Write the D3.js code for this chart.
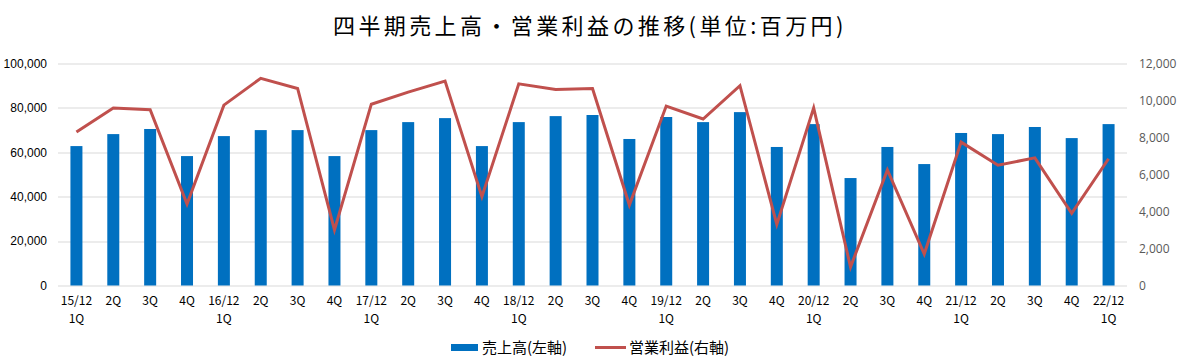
<!DOCTYPE html>
<html>
<head>
<meta charset="utf-8">
<script src="https://cdn.jsdelivr.net/npm/d3@7"></script>
<style>
  body { margin: 0; background: #fff; }
  text { font-family: "Noto Sans CJK JP", sans-serif; }
</style>
</head>
<body>
<div id="chart"></div>
<script>
// data
var periods = ["15/12","2Q","3Q","4Q","16/12","2Q","3Q","4Q","17/12","2Q","3Q","4Q",
  "18/12","2Q","3Q","4Q","19/12","2Q","3Q","4Q","20/12","2Q","3Q","4Q",
  "21/12","2Q","3Q","4Q","22/12"];
var sales = [62800, 68200, 70500, 58300, 67300, 70000, 70000, 58300, 70000,
  73600, 75400, 62800, 73600, 76300, 76800, 66000, 75900, 73600, 78100, 62400,
  72700, 48400, 62400, 54700, 68700, 68200, 71400, 66400, 72700];
var profit = [8300, 9600, 9500, 4400, 9750, 11200, 10650, 3000, 9800,
  10450, 11050, 4800, 10900, 10600, 10650, 4350, 9700, 9000, 10800, 3300,
  9600, 1000, 6250, 1700, 7750, 6500, 6900, 3900, 6850];
var leftTicks = [0, 20000, 40000, 60000, 80000, 100000];
var rightTicks = [0, 2000, 4000, 6000, 8000, 10000, 12000];

var W = 1184, H = 364;
var margin = {top: 63.5, right: 57, bottom: 78.5, left: 58},
  width = W - margin.left - margin.right,
  height = H - margin.top - margin.bottom;

var svg = d3.select("#chart").append("svg")
  .attr("width", W).attr("height", H);

svg.append("text")
  .attr("x", 333).attr("y", 34)
  .style("font-size", "22px")
  .style("letter-spacing", "3.4px")
  .style("fill", "#000")
  .text("四半期売上高・営業利益の推移(単位:百万円)");

var g = svg.append("g")
  .attr("transform", "translate(" + margin.left + "," + margin.top + ")");

var idx = d3.range(periods.length);
var x = d3.scaleBand().domain(idx).range([0, width]).padding(0);
var yL = d3.scaleLinear().domain([0, 100000]).range([height, 0]);
var yR = d3.scaleLinear().domain([0, 12000]).range([height, 0]);

// gridlines
g.selectAll(".grid")
  .data(leftTicks)
  .enter().append("line")
  .attr("x1", 0).attr("x2", width)
  .attr("y1", function(d) { return Math.round(yL(d)) + 0.5; })
  .attr("y2", function(d) { return Math.round(yL(d)) + 0.5; })
  .style("stroke", "#d9d9d9").style("stroke-width", 1);

// left axis
var axL = g.append("g")
  .call(d3.axisLeft(yL).tickValues(leftTicks).tickSize(0).tickPadding(11)
    .tickFormat(d3.format(",")));
axL.select(".domain").remove();
axL.selectAll("text")
  .style("font-family", "'Liberation Sans', sans-serif")
  .style("font-size", "12px").style("fill", "#000");

// right axis
var axR = g.append("g")
  .attr("transform", "translate(" + width + ",0)")
  .call(d3.axisRight(yR).tickValues(rightTicks).tickSize(0).tickPadding(12)
    .tickFormat(d3.format(",")));
axR.select(".domain").remove();
axR.selectAll("text")
  .style("font-family", "'Open Sans', sans-serif")
  .style("font-size", "12px").style("fill", "#595959");

// bars
var bw = 12;
g.selectAll(".bar")
  .data(sales)
  .enter().append("rect")
  .attr("x", function(d, i) { return x(i) + x.bandwidth() / 2 - bw / 2; })
  .attr("y", function(d) { return yL(d); })
  .attr("width", bw)
  .attr("height", function(d) { return height - yL(d); })
  .style("fill", "#0070c0");

// line
var line = d3.line()
  .x(function(d, i) { return x(i) + x.bandwidth() / 2; })
  .y(function(d) { return yR(d); });

g.append("path")
  .datum(profit)
  .attr("d", line)
  .style("fill", "none")
  .style("stroke", "#c0504d")
  .style("stroke-width", 3)
  .style("stroke-linejoin", "miter");

// category labels
var xl = g.append("g").attr("transform", "translate(0," + height + ")");
xl.selectAll(".lab1")
  .data(periods)
  .enter().append("text")
  .attr("x", function(d, i) { return x(i) + x.bandwidth() / 2; })
  .attr("y", 19)
  .attr("text-anchor", "middle")
  .style("font-size", "12px").style("fill", "#000")
  .text(function(d) { return d; });
xl.selectAll(".lab2")
  .data(periods)
  .enter().filter(function(d) { return d.indexOf("/") > 0; })
  .append("text")
  .attr("x", function(d) { return x(periods.indexOf(d)) + x.bandwidth() / 2; })
  .attr("y", 37)
  .attr("text-anchor", "middle")
  .style("font-size", "12px").style("fill", "#000")
  .text("1Q");

// legend
var leg = svg.append("g");
leg.append("rect")
  .attr("x", 451).attr("y", 344).attr("width", 27).attr("height", 7)
  .style("fill", "#0070c0");
leg.append("text")
  .attr("x", 482).attr("y", 353)
  .style("font-size", "15px").style("fill", "#000")
  .text("売上高(左軸)");
leg.append("line")
  .attr("x1", 595).attr("x2", 626).attr("y1", 347.5).attr("y2", 347.5)
  .style("stroke", "#c0504d").style("stroke-width", 3);
leg.append("text")
  .attr("x", 629).attr("y", 353)
  .style("font-size", "15px").style("fill", "#000")
  .text("営業利益(右軸)");
</script>
</body>
</html>
